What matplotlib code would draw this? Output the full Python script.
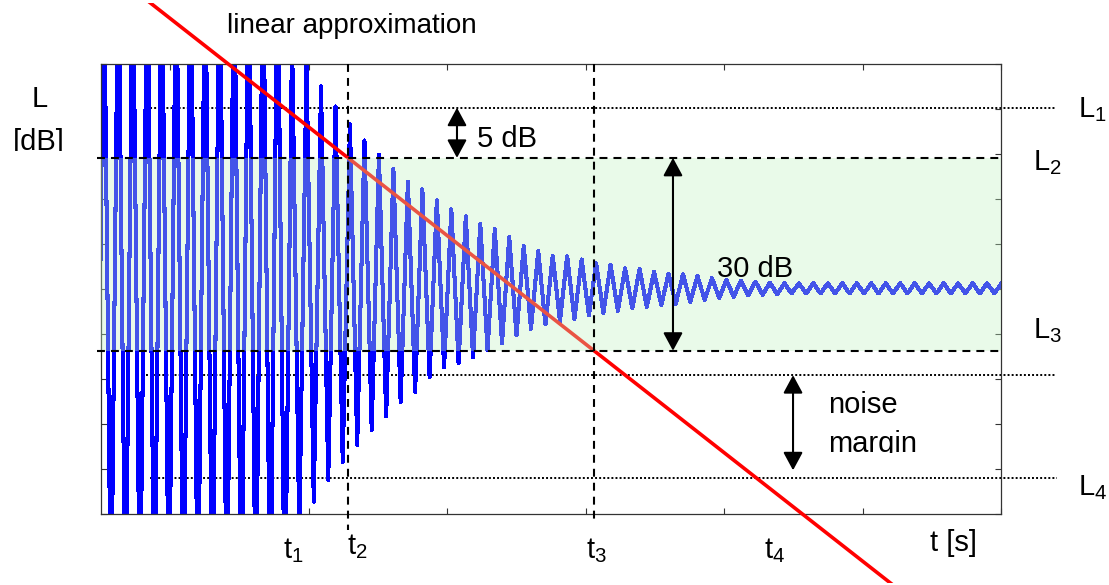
import numpy as np
import matplotlib
matplotlib.use("Agg")
import matplotlib.pyplot as plt
from matplotlib.transforms import Bbox, TransformedBbox

plt.rcParams["font.family"] = ["Liberation Sans", "DejaVu Sans"]
plt.rcParams["mathtext.default"] = "regular"

W, H = 1109, 585

# Reference levels [dB]
level_L1 = 63.2
level_L2 = 55.4
level_L3 = 25.4
level_noise = 21.6
level_L4 = 5.6

# Time markers [s]
t2 = 1.784
t3 = 3.561

# Oscillation of the measured level: period and first crest [s]
period = 0.10458
first_crest = 0.0202

# Crest levels of each cycle [dB] (first cycles exceed the plotted range)
crest_db = [
    88.0, 88.0, 88.0, 88.0, 88.0, 88.0, 88.0, 88.0, 88.0, 88.0,
    88.0, 88.0, 88.0,
    74.0, 70.0, 66.5, 63.4, 60.6, 58.1, 55.9, 53.7, 51.7, 50.5,
    48.8, 47.4, 46.3, 45.1, 44.3, 43.1, 41.7, 40.9, 40.2, 40.1,
    39.6, 39.0, 38.8, 38.2, 38.1, 37.7, 37.4, 37.3, 37.0, 36.7,
    36.4, 36.3, 36.15, 36.0,
    35.9, 35.9, 35.9, 35.9, 35.9, 35.9, 35.9, 35.9, 35.9, 35.9,
    35.9, 35.9, 35.9, 35.9, 35.9, 35.9,
]

# Trough level preceding each crest [dB]
trough_db = [
    -18.0, -18.0, -18.0, -18.0, -18.0, -18.0, -18.0, -18.0, -18.0, -18.0,
    -18.0, -18.0, -18.0, -18.0,
    -3.0, 1.9, 5.3, 8.1, 10.7, 13.1, 15.2, 17.4, 19.0, 21.3,
    22.8, 23.5, 24.4, 25.5, 26.6, 27.8, 28.8, 29.5, 30.0, 30.3,
    30.9, 31.3, 31.6, 32.0, 32.2, 32.5, 32.7, 33.0, 33.3, 33.6,
    33.8, 34.0, 34.1, 34.2,
    34.3, 34.3, 34.3, 34.3, 34.3, 34.3, 34.3, 34.3, 34.3, 34.3,
    34.3, 34.3, 34.3, 34.3, 34.3,
]

n = len(crest_db)
k = np.arange(n)
crest_t = first_crest + k * period
trough_t = crest_t - 0.5 * period
t = np.empty(2 * n)
lev = np.empty(2 * n)
t[0::2], t[1::2] = trough_t, crest_t
lev[0::2], lev[1::2] = trough_db, crest_db

fig = plt.figure(figsize=(W / 100, H / 100), dpi=100)
ax = fig.add_axes([101 / W, 1 - 514 / H, 900 / W, 450 / H])
ax.set_xlim(0, 6.5)
ax.set_ylim(0, 70)
ax.set_xticks(np.arange(0.5, 6.6, 1.0))
ax.set_yticks(np.arange(0, 71, 7))
ax.tick_params(direction="in", top=True, right=True, length=4.5, width=0.8,
               color="#333333", labelbottom=False, labelleft=False)
for sp in ax.spines.values():
    sp.set_linewidth(0.9)
    sp.set_color("#333333")

# dotted auxiliary levels
dot = dict(color="k", lw=1.4, dashes=(1.0, 1.1), clip_on=False, zorder=1)
ax.plot([0.325, 6.89], [level_L1, level_L1], **dot)
ax.plot([0.325, 6.89], [level_noise, level_noise], **dot)
ax.plot([0.354, 6.905], [level_L4, level_L4], **dot)

# measured level
ax.plot(t, lev, color="#0000FF", lw=2.2, antialiased=False, zorder=2)

# linear approximation through (t2, L2) and (t3, L3)
slope = (level_L3 - level_L2) / (t3 - t2)
xs = np.array([-1.0, 8.0])
ys = level_L2 + slope * (xs - t2)
red, = ax.plot(xs, ys, color="#FF0000", lw=2.6, zorder=3)
red.set_clip_path(None)
red.set_clip_box(TransformedBbox(Bbox.from_extents(0, 1 - 583 / H, 1, 1 - 3 / H),
                                 fig.transFigure))
red.set_clip_on(True)

# evaluation range
ax.axhspan(level_L3, level_L2, facecolor=(194 / 255, 243 / 255, 194 / 255),
           alpha=0.35, lw=0, zorder=4)

dash = dict(color="k", lw=1.5, dashes=(3.8, 2.9), clip_on=False, zorder=5)
ax.plot([-0.03, 6.515], [level_L2, level_L2], **dash)
ax.plot([-0.03, 6.515], [level_L3, level_L3], **dash)
ax.plot([t2, t2], [70, -2.5], **dash)
ax.plot([t3, t3], [70, -1.0], **dash)

arrow = dict(arrowstyle="<|-|>,head_length=0.5,head_width=0.27", color="k",
             lw=1.5, mutation_scale=22, shrinkA=0, shrinkB=0)
ax.annotate("", xy=(2.571, level_L2), xytext=(2.571, level_L1),
            arrowprops=arrow, zorder=6)
ax.annotate("", xy=(4.131, level_L3), xytext=(4.131, level_L2),
            arrowprops=arrow, zorder=6)
ax.annotate("", xy=(4.998, level_L4 + 1.2), xytext=(4.998, level_noise),
            arrowprops=arrow, zorder=6)


def label(px, py, s, clip_py=None, size=21):
    txt = fig.text(px / W, 1 - py / H, s, fontsize=size, ha="left",
                   va="baseline", zorder=7)
    if clip_py is not None:
        txt.set_clip_box(TransformedBbox(
            Bbox.from_extents(0, 1 - clip_py / H, 1, 1), fig.transFigure))
        txt.set_clip_on(True)
    return txt


label(227, 33, "linear approximation", size=20)
label(32, 107, "L")
label(13, 150, "[dB]", clip_py=151)
label(477, 147, "5 dB")
label(717, 277, "30 dB")
label(828, 413, "noise")
label(828, 452, "margin", clip_py=453)
label(283, 558, r"$t_1$")
label(347, 554, r"$t_2$")
label(586, 558, r"$t_3$")
label(764, 558, r"$t_4$")
label(930, 551, "t [s]")
label(1078, 117, r"$L_1$")
label(1033, 170, r"$L_2$")
label(1033, 338, r"$L_3$")
label(1078, 495, r"$L_4$")

fig.savefig("out.png", dpi=100)
